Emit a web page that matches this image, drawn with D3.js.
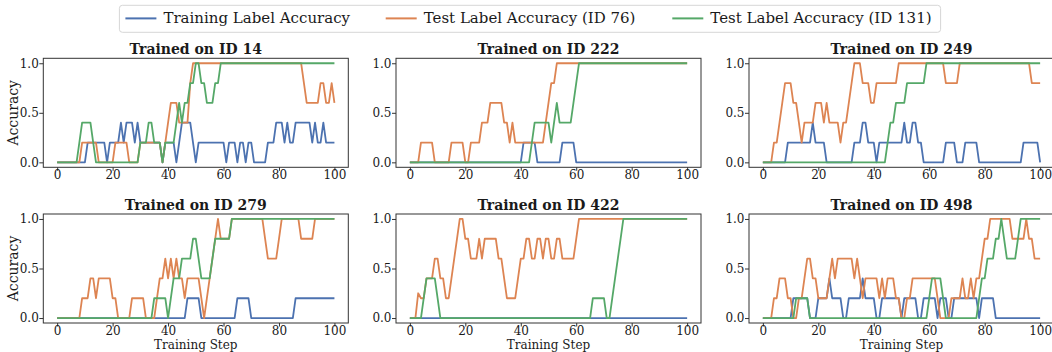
<!DOCTYPE html>
<html>
<head>
<meta charset="utf-8">
<script src="https://cdn.jsdelivr.net/npm/d3@7"></script>
<style>
  body { margin: 0; background: #fff; }
  svg text { font-family: "DejaVu Serif", serif; fill: #1a1a1a; }
</style>
</head>
<body>
<svg id="chart" width="1052" height="352"></svg>
<script>
// step axis shared by all panels
const steps = d3.range(0, 101);
const xTicks = [0, 20, 40, 60, 80, 100];
const yTicks = [0.0, 0.5, 1.0];
const seriesNames = ['Training Label Accuracy', 'Test Label Accuracy (ID 76)', 'Test Label Accuracy (ID 131)'];
const seriesColors = ['#4C72B0', '#DD8452', '#55A868'];
const panelTitles = ['Trained on ID 14', 'Trained on ID 222', 'Trained on ID 249',
  'Trained on ID 279', 'Trained on ID 422', 'Trained on ID 498'];

// --- ID 14
const id14Train = [
  0,0,0,0,0,0,0,0,0,0,
  0,.2,.2,.2,.2,.2,.2,.2,0,.2,
  .2,.2,.2,.4,.2,.4,.4,.4,.2,.4,
  .2,.2,.2,.2,.2,.2,.2,.2,0,.2,
  .2,.2,.2,0,.2,.4,.4,.4,.4,.2,
  0,.2,.2,.2,.2,.2,.2,.2,.2,.2,
  .2,0,.2,.2,.2,0,.2,.2,0,.2,
  .2,0,0,0,0,0,.2,.2,.2,.4,
  .4,.4,.2,.4,.2,.2,.4,.4,.4,.4,
  .4,.4,.2,.4,.2,.2,.4,.2,.2,.2,
  .2];
const id14Test76 = [
  0,0,0,0,0,0,0,0,0,.2,
  .2,.2,.2,.2,.2,0,0,0,0,0,
  0,.2,.2,.2,.2,.2,0,0,0,0,
  .2,.2,.2,.2,.2,.2,.2,.2,0,.2,
  .4,.6,.6,.6,.4,.4,.4,.4,.8,1,
  1,1,1,1,1,1,1,1,1,1,
  1,1,1,1,1,1,1,1,1,1,
  1,1,1,1,1,1,1,1,1,1,
  1,1,1,1,1,1,1,1,1,.8,
  .6,.6,.6,.6,.6,.8,.8,.6,.6,.8,
  .6];
const id14Test131 = [
  0,0,0,0,0,0,0,0,.2,.4,
  .4,.4,.4,.2,0,0,0,0,0,0,
  0,0,0,0,0,0,0,0,0,0,
  .2,.2,.2,.4,.4,.2,.2,.2,0,.2,
  .2,.2,.2,.4,.6,.4,.6,.6,.8,.8,
  1,1,.8,.8,.6,.6,.6,.8,.8,1,
  1,1,1,1,1,1,1,1,1,1,
  1,1,1,1,1,1,1,1,1,1,
  1,1,1,1,1,1,1,1,1,1,
  1,1,1,1,1,1,1,1,1,1,
  1];

// --- ID 222
const id222Train = [
  0,0,0,0,0,0,0,0,0,0,
  0,0,0,0,0,0,0,0,0,0,
  0,0,0,0,0,0,0,0,0,0,
  0,0,0,0,0,0,0,0,0,0,
  0,.2,.2,.2,.2,.2,0,0,0,0,
  0,0,0,0,0,.2,.2,.2,.2,.2,
  0,0,0,0,0,0,0,0,0,0,
  0,0,0,0,0,0,0,0,0,0,
  0,0,0,0,0,0,0,0,0,0,
  0,0,0,0,0,0,0,0,0,0,
  0];
const id222Test76 = [
  0,0,0,0,.2,.2,.2,.2,.2,0,
  0,0,0,0,0,.2,.2,.2,.2,.2,
  0,0,.2,.2,.2,.2,.4,.4,.4,.6,
  .6,.6,.6,.6,.4,.4,.2,.4,.2,.2,
  .2,.2,.2,.2,.2,.2,.2,.2,.2,.4,
  .6,.8,.8,1,1,1,1,1,1,1,
  1,1,1,1,1,1,1,1,1,1,
  1,1,1,1,1,1,1,1,1,1,
  1,1,1,1,1,1,1,1,1,1,
  1,1,1,1,1,1,1,1,1,1,
  1];
const id222Test131 = [
  0,0,0,0,0,0,0,0,0,0,
  0,0,0,0,0,0,0,0,0,0,
  0,0,0,0,0,0,0,0,0,0,
  0,0,0,0,0,0,0,0,0,0,
  0,0,0,0,.2,.4,.4,.4,.4,.4,
  .4,.2,.4,.6,.4,.4,.4,.4,.4,.6,
  .8,1,1,1,1,1,1,1,1,1,
  1,1,1,1,1,1,1,1,1,1,
  1,1,1,1,1,1,1,1,1,1,
  1,1,1,1,1,1,1,1,1,1,
  1];

// --- ID 249
const id249Train = [
  0,0,0,0,0,0,0,0,0,.2,
  .2,.2,.2,.2,.2,.2,.2,.2,.4,.2,
  .2,.2,.2,0,0,0,0,0,0,0,
  0,0,0,.2,.2,.2,.4,.4,.2,.2,
  .2,0,.2,.2,.2,.2,.2,.2,.2,.2,
  .2,.4,.2,.2,.4,.4,.2,.2,0,0,
  0,0,0,0,0,0,.2,.2,.2,.2,
  0,0,0,.2,.2,.2,.2,.2,0,0,
  0,0,0,0,0,0,0,0,0,0,
  0,0,0,0,.2,.2,.2,.2,.2,.2,
  0];
const id249Test76 = [
  0,0,0,0,.2,.2,.4,.6,.8,.8,
  .8,.6,.6,.4,.2,.4,.4,.4,.4,.6,
  .6,.6,.4,.6,.4,.4,.4,.4,.2,.4,
  .4,.6,.8,1,1,1,.8,.8,.8,.6,
  .6,.8,.8,.8,.8,.8,.8,.8,.8,1,
  1,1,1,1,1,1,1,1,1,1,
  1,1,1,1,1,1,.8,.8,.8,.8,
  .8,1,1,1,1,1,1,1,1,1,
  1,1,1,1,1,1,1,1,1,1,
  1,1,1,1,1,1,1,.8,.8,.8,
  .8];
const id249Test131 = [
  0,0,0,0,0,0,0,0,0,0,
  0,0,0,0,0,0,0,0,0,0,
  0,0,0,0,0,0,0,0,0,0,
  0,0,0,0,0,0,0,0,0,0,
  0,0,0,0,0,.2,.4,.4,.6,.6,
  .6,.6,.8,.8,.8,.8,.8,.8,.8,1,
  1,1,1,1,1,1,1,1,1,1,
  1,1,1,1,1,1,1,1,1,1,
  1,1,1,1,1,1,1,1,1,1,
  1,1,1,1,1,1,1,1,1,1,
  1];

// --- ID 279
const id279Train = [
  0,0,0,0,0,0,0,0,0,0,
  0,0,0,0,0,0,0,0,0,0,
  0,0,0,0,0,0,0,0,0,0,
  0,0,0,0,0,0,0,0,0,0,
  0,0,0,0,0,0,0,.2,.2,.2,
  .2,.2,0,0,0,0,0,0,0,0,
  0,0,0,0,0,.2,.2,.2,.2,.2,
  0,0,0,0,0,0,0,0,0,0,
  0,0,0,0,0,0,.2,.2,.2,.2,
  .2,.2,.2,.2,.2,.2,.2,.2,.2,.2,
  .2];
const id279Test76 = [
  0,0,0,0,0,0,0,0,0,.2,
  .2,.2,.4,.4,.2,.4,.4,.4,.4,.4,
  .2,.2,0,0,0,0,0,.2,.2,.2,
  .2,.2,0,0,0,0,.2,.4,.4,.6,
  .4,.6,.4,.6,.4,.4,.2,.4,.4,.4,
  .4,.4,.2,0,.2,.4,.6,.8,1,.8,
  .8,.8,.8,1,1,1,1,1,1,1,
  1,1,1,1,1,.8,.6,.6,.6,.6,
  .8,1,1,1,1,1,1,1,.8,.8,
  .8,.8,.8,1,1,1,1,1,1,1,
  1];
const id279Test131 = [
  0,0,0,0,0,0,0,0,0,0,
  0,0,0,0,0,0,0,0,0,0,
  0,0,0,0,0,0,0,0,0,0,
  0,0,0,0,0,.2,.2,.2,.2,.2,
  0,.2,.4,.4,.4,.6,.6,.6,.6,.8,
  .8,.6,.4,.4,.4,.4,.6,.8,.8,.8,
  .8,.8,.8,1,1,1,1,1,1,1,
  1,1,1,1,1,1,1,1,1,1,
  1,1,1,1,1,1,1,1,1,1,
  1,1,1,1,1,1,1,1,1,1,
  1];

// --- ID 422
const id422Train = [
  0,0,0,0,0,0,0,0,0,0,
  0,0,0,0,0,0,0,0,0,0,
  0,0,0,0,0,0,0,0,0,0,
  0,0,0,0,0,0,0,0,0,0,
  0,0,0,0,0,0,0,0,0,0,
  0,0,0,0,0,0,0,0,0,0,
  0,0,0,0,0,0,0,0,0,0,
  0,0,0,0,0,0,0,0,0,0,
  0,0,0,0,0,0,0,0,0,0,
  0,0,0,0,0,0,0,0,0,0,
  0];
const id422Test76 = [
  0,0,0,.25,.2,.2,.4,.4,.4,.6,
  .6,.4,.4,.2,.2,.4,.6,.8,1,1,
  .8,.8,.6,.6,.6,.8,.6,.8,.8,.8,
  .8,.8,.6,.6,.4,.2,.2,.2,.2,.4,
  .6,.6,.8,.8,.6,.6,.8,.8,.6,.8,
  .8,.6,.6,.8,.8,.6,.6,.6,.6,.6,
  .8,1,1,1,1,1,1,1,1,1,
  1,1,1,1,1,1,1,1,1,1,
  1,1,1,1,1,1,1,1,1,1,
  1,1,1,1,1,1,1,1,1,1,
  1];
const id422Test131 = [
  0,0,0,0,0,.2,.4,.4,.4,.4,
  .2,0,0,0,0,0,0,0,0,0,
  0,0,0,0,0,0,0,0,0,0,
  0,0,0,0,0,0,0,0,0,0,
  0,0,0,0,0,0,0,0,0,0,
  0,0,0,0,0,0,0,0,0,0,
  0,0,0,0,0,0,.2,.2,.2,.2,
  .2,0,0,.2,.4,.6,.8,1,1,1,
  1,1,1,1,1,1,1,1,1,1,
  1,1,1,1,1,1,1,1,1,1,
  1];

// --- ID 498
const id498Train = [
  0,0,0,0,0,0,0,0,0,0,
  0,.2,.2,.2,.2,.2,.2,0,0,0,
  .2,.2,.2,.2,.4,.2,.2,.2,.2,0,
  0,.2,.2,.2,.2,.2,.4,.2,.2,.2,
  .2,0,0,.2,.2,.2,.2,.2,.2,.2,
  0,.2,.2,.2,.2,.2,0,0,.2,.2,
  .2,.2,.2,0,.2,.2,.2,0,0,.2,
  .2,.2,.2,.2,.2,.2,.2,.2,0,.2,
  .2,.2,.2,.2,0,0,0,0,0,0,
  0,0,0,0,0,0,0,0,0,0,
  0];
const id498Test76 = [
  0,0,0,0,.2,.2,.4,.4,.4,.2,
  .2,0,0,.2,.2,.4,.6,.6,.4,.4,
  .2,.2,.2,.2,.4,.6,.4,.6,.6,.6,
  .6,.6,.6,.4,.6,.4,.2,.4,.4,.4,
  .4,.4,.2,.4,.2,.4,.4,.4,.2,.2,
  0,0,.2,.2,.4,.4,.4,.4,.4,.4,
  .4,.4,.4,.2,0,0,0,0,.2,.2,
  .2,.2,.4,.2,.2,.4,.2,.4,.4,.6,
  .8,.8,1,1,1,1,1,1,1,1,
  .8,.8,.8,.8,.8,1,.8,.8,.6,.6,
  .6];
const id498Test131 = [
  0,0,0,0,0,0,0,0,0,0,
  0,0,.2,.2,.2,.2,.2,0,0,0,
  0,0,0,0,0,0,0,0,0,0,
  0,0,0,0,0,0,0,0,0,0,
  0,0,0,0,0,0,0,0,0,0,
  0,0,0,0,0,0,0,0,0,0,
  .2,.4,.4,.4,.4,.2,0,0,0,0,
  0,0,0,0,0,0,0,0,.2,.4,
  .4,.6,.6,.6,.8,.8,1,.8,.6,.6,
  .6,.6,.8,1,1,1,1,1,1,1,
  1];

const panelSeries = [
  [id14Train, id14Test76, id14Test131],
  [id222Train, id222Test76, id222Test131],
  [id249Train, id249Test76, id249Test131],
  [id279Train, id279Test76, id279Test131],
  [id422Train, id422Test76, id422Test131],
  [id498Train, id498Test76, id498Test131]
];

const svg = d3.select('#chart');
const colLeft = [43.3, 396, 749];
const rowTop = [58.3, 214];
const pw = 305, ph = 109;
const axisColor = '#333333';

panelTitles.forEach((title, pi) => {
  const col = pi % 3, row = Math.floor(pi / 3);
  const g = svg.append('g')
    .attr('transform', `translate(${colLeft[col]},${rowTop[row]})`);

  const x = d3.scaleLinear().domain([-5, 105]).range([0, pw]);
  const y = d3.scaleLinear().domain([-0.05, 1.05]).range([ph, 0]);

  // lines first, frame on top like matplotlib spines
  const line = d3.line()
    .x((d, i) => x(steps[i]))
    .y(d => y(d));
  panelSeries[pi].forEach((vals, si) => {
    g.append('path')
      .datum(vals)
      .attr('fill', 'none')
      .attr('stroke', seriesColors[si])
      .attr('stroke-width', 1.8)
      .attr('stroke-linejoin', 'round')
      .attr('d', line);
  });

  const xa = g.append('g')
    .attr('transform', `translate(0,${ph})`)
    .call(d3.axisBottom(x).tickValues(xTicks).tickSize(3.5).tickPadding(0));
  const ya = g.append('g')
    .call(d3.axisLeft(y).tickValues(yTicks).tickFormat(d3.format('.1f')).tickSize(4).tickPadding(0.5));
  [xa, ya].forEach(a => {
    a.select('.domain').remove();
    a.selectAll('line').attr('stroke', axisColor).attr('stroke-width', 1);
    a.selectAll('text')
      .style('font-family', '"DejaVu Serif", serif')
      .style('font-size', '12px')
      .attr('fill', '#1a1a1a');
  });

  g.append('rect')
    .attr('x', 0).attr('y', 0)
    .attr('width', pw).attr('height', ph)
    .attr('fill', 'none')
    .attr('stroke', axisColor)
    .attr('stroke-width', 1);

  g.append('text')
    .attr('x', pw / 2).attr('y', -4)
    .attr('text-anchor', 'middle')
    .style('font-size', '14px')
    .style('font-weight', 'bold')
    .text(title);

  if (col === 0) {
    svg.append('text')
      .attr('transform', `translate(17.5,${rowTop[row] + ph / 2}) rotate(-90)`)
      .attr('text-anchor', 'middle')
      .style('font-size', '14px')
      .text('Accuracy');
  }
  if (row === 1) {
    // squeezed between the tick labels and the bottom edge
    g.append('text')
      .attr('x', pw / 2).attr('y', ph + 26.2)
      .attr('text-anchor', 'middle')
      .style('font-size', '12px')
      .text('Training Step');
  }
});

// legend across the top
const legend = svg.append('g');
legend.append('rect')
  .attr('x', 119.4).attr('y', 5.3)
  .attr('width', 821.2).attr('height', 27)
  .attr('rx', 3)
  .attr('fill', '#fff')
  .attr('stroke', '#d6d6d6')
  .attr('stroke-width', 1);
const legendX = [125.4, 385.7, 672.3];
seriesNames.forEach((name, i) => {
  legend.append('line')
    .attr('x1', legendX[i]).attr('x2', legendX[i] + 31)
    .attr('y1', 18.4).attr('y2', 18.4)
    .attr('stroke', seriesColors[i])
    .attr('stroke-width', 2);
  legend.append('text')
    .attr('x', legendX[i] + 38).attr('y', 23.4)
    .style('font-size', '15px')
    .text(name);
});
</script>
</body>
</html>
